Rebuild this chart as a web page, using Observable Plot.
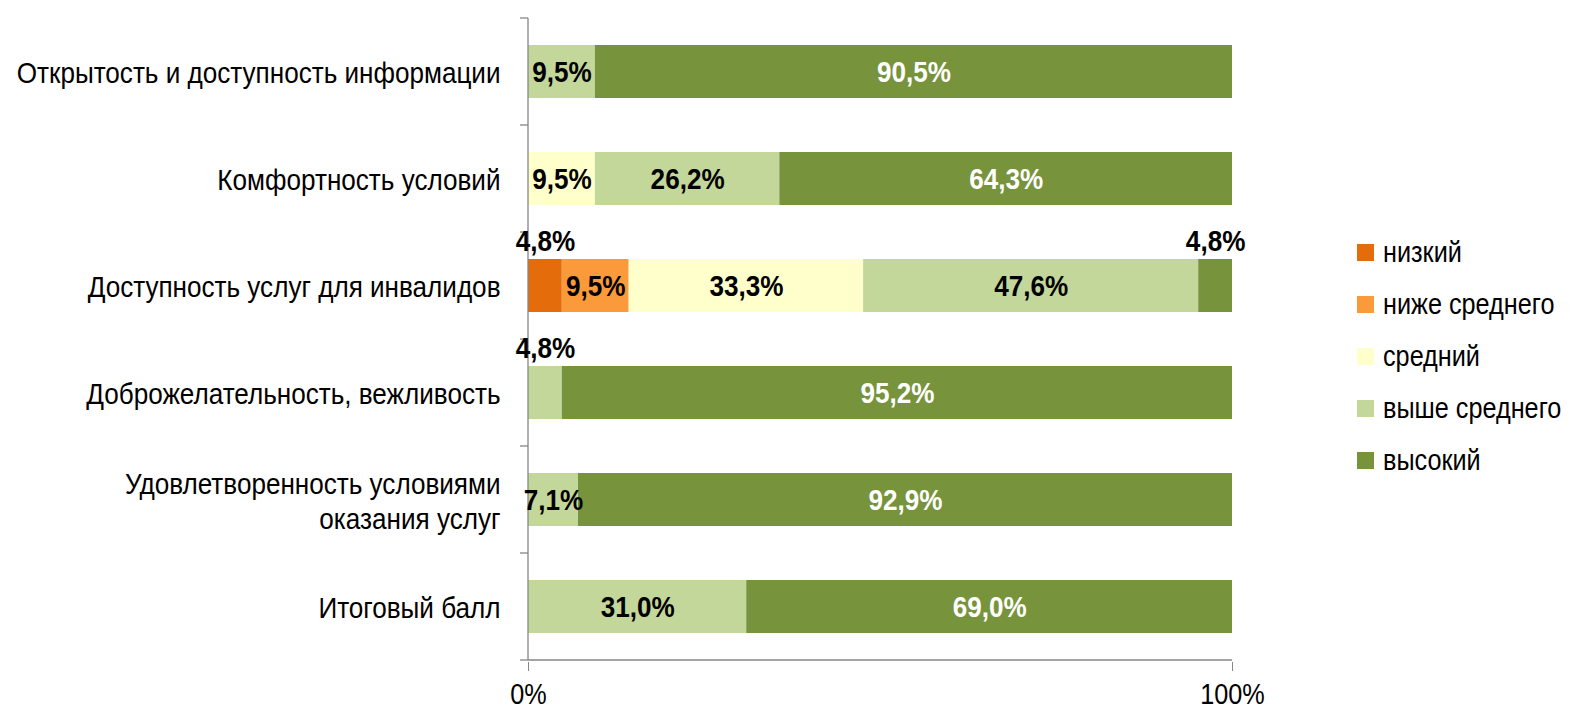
<!DOCTYPE html>
<html>
<head>
<meta charset="utf-8">
<script src="https://cdn.jsdelivr.net/npm/d3@7"></script>
<script src="https://cdn.jsdelivr.net/npm/@observablehq/plot@0.6"></script>
<style>
  html, body { margin: 0; padding: 0; background: #fff; }
  #wrap { position: relative; width: 1573px; height: 714px; font-family: "Liberation Sans", Arial, sans-serif; }
  #legend { position: absolute; left: 1357px; top: 226px; }
  .li { display: flex; align-items: center; height: 52px; font-size: 29px; color: #000; white-space: nowrap; }
  .sw { width: 17px; height: 17px; margin-right: 9px; flex: none; }
  .lt { display: inline-block; transform: scaleX(0.87); transform-origin: 0 50%; }
</style>
</head>
<body>
<div id="wrap"></div>
<script>
const categories = [
  "Открытость и доступность информации",
  "Комфортность условий",
  "Доступность услуг для инвалидов",
  "Доброжелательность, вежливость",
  "Удовлетворенность условиями\nоказания услуг",
  "Итоговый балл"
];
const levels = ["низкий", "ниже среднего", "средний", "выше среднего", "высокий"];
const levelColors = ["#E46C0A", "#FA9A3A", "#FFFFCC", "#C4D79B", "#77933C"];

// series values (%), one per category
const low      = [0, 0, 4.8, 0, 0, 0];
const belowAvg = [0, 0, 9.5, 0, 0, 0];
const mid      = [0, 9.5, 33.3, 0, 0, 0];
const aboveAvg = [9.5, 26.2, 47.6, 4.8, 7.1, 31.0];
const high     = [90.5, 64.3, 4.8, 95.2, 92.9, 69.0];
const xTicks = [0, 100];

const series = [low, belowAvg, mid, aboveAvg, high];
const rows = [];
categories.forEach((cat, i) => {
  let acc = 0;
  series.forEach((s, j) => {
    const v = s[i];
    if (v > 0) {
      rows.push({cat, level: levels[j], value: v, x1: acc, x2: acc + v});
    }
    acc += v;
  });
});
const fmt = v => v.toFixed(1).replace(".", ",") + "%";
const inside = rows.filter(d => d.value >= 5);
const above = rows.filter(d => d.value < 5);

const FONT = '"Liberation Sans", Arial, sans-serif';
const AXIS = "#868686";
const NARROW = 0.87;

const axisLines = (index, scales, values, dimensions) => {
  const {x, y} = scales;
  const g = d3.create("svg:g").attr("stroke", AXIS).attr("stroke-width", 1.3).attr("fill", "none");
  const step = y.bandwidth ? y.step() : (dimensions.height - dimensions.marginTop - dimensions.marginBottom) / categories.length;
  const x0 = x(0);
  const bounds = categories.map(c => y(c));
  bounds.push(y(categories[categories.length - 1]) + step);
  for (const b of bounds) {
    g.append("line").attr("x1", x0 - 8).attr("x2", x0).attr("y1", b).attr("y2", b);
  }
  const yb = bounds[bounds.length - 1];
  g.append("line").attr("x1", x0).attr("x2", x0).attr("y1", bounds[0]).attr("y2", yb);
  g.append("line").attr("x1", x0).attr("x2", x(100)).attr("y1", yb).attr("y2", yb);
  return g.node();
};

const chart = Plot.plot({
  width: 1573,
  height: 714,
  marginLeft: 528,
  marginRight: 341,
  marginTop: 15,
  marginBottom: 52,
  style: {fontFamily: FONT, color: "#000", background: "#fff"},
  x: {domain: [0, 100], axis: null},
  y: {domain: categories, padding: 0, axis: null},
  color: {domain: levels, range: levelColors},
  marks: [
    Plot.barX(rows, {x1: "x1", x2: "x2", y: "cat", fill: "level", insetTop: 27, insetBottom: 27}),
    axisLines,
    Plot.axisY({tickSize: 0, tickPadding: 28, fontSize: 30, lineHeight: 1.17, fill: "#000", label: null}),
    Plot.axisX({ticks: xTicks, tickFormat: d => d + "%", tickSize: 9, tickPadding: 12, fontSize: 29, stroke: AXIS, fill: "#000", label: null}),
    Plot.text(inside, {
      x: d => (d.x1 + d.x2) / 2, y: "cat", text: d => fmt(d.value),
      fill: d => d.level === "высокий" ? "#fff" : "#000",
      fontSize: 30, fontWeight: "bold"
    }),
    Plot.text(above, {
      x: d => (d.x1 + d.x2) / 2, y: "cat", text: d => fmt(d.value),
      fill: "#000", fontSize: 30, fontWeight: "bold", dy: -45
    })
  ]
});

// narrow the type horizontally (the reference uses a condensed face)
chart.querySelectorAll("text").forEach(t => {
  const tr = t.getAttribute("transform") || "";
  t.setAttribute("transform", (tr + ` scale(${NARROW},1)`).trim());
});

const wrap = document.getElementById("wrap");
wrap.appendChild(chart);
const legend = document.createElement("div");
legend.id = "legend";
levels.forEach((l, i) => {
  const row = document.createElement("div");
  row.className = "li";
  const sw = document.createElement("span");
  sw.className = "sw";
  sw.style.background = levelColors[i];
  const t = document.createElement("span");
  t.className = "lt";
  t.textContent = l;
  row.appendChild(sw);
  row.appendChild(t);
  legend.appendChild(row);
});
wrap.appendChild(legend);
</script>
</body>
</html>
